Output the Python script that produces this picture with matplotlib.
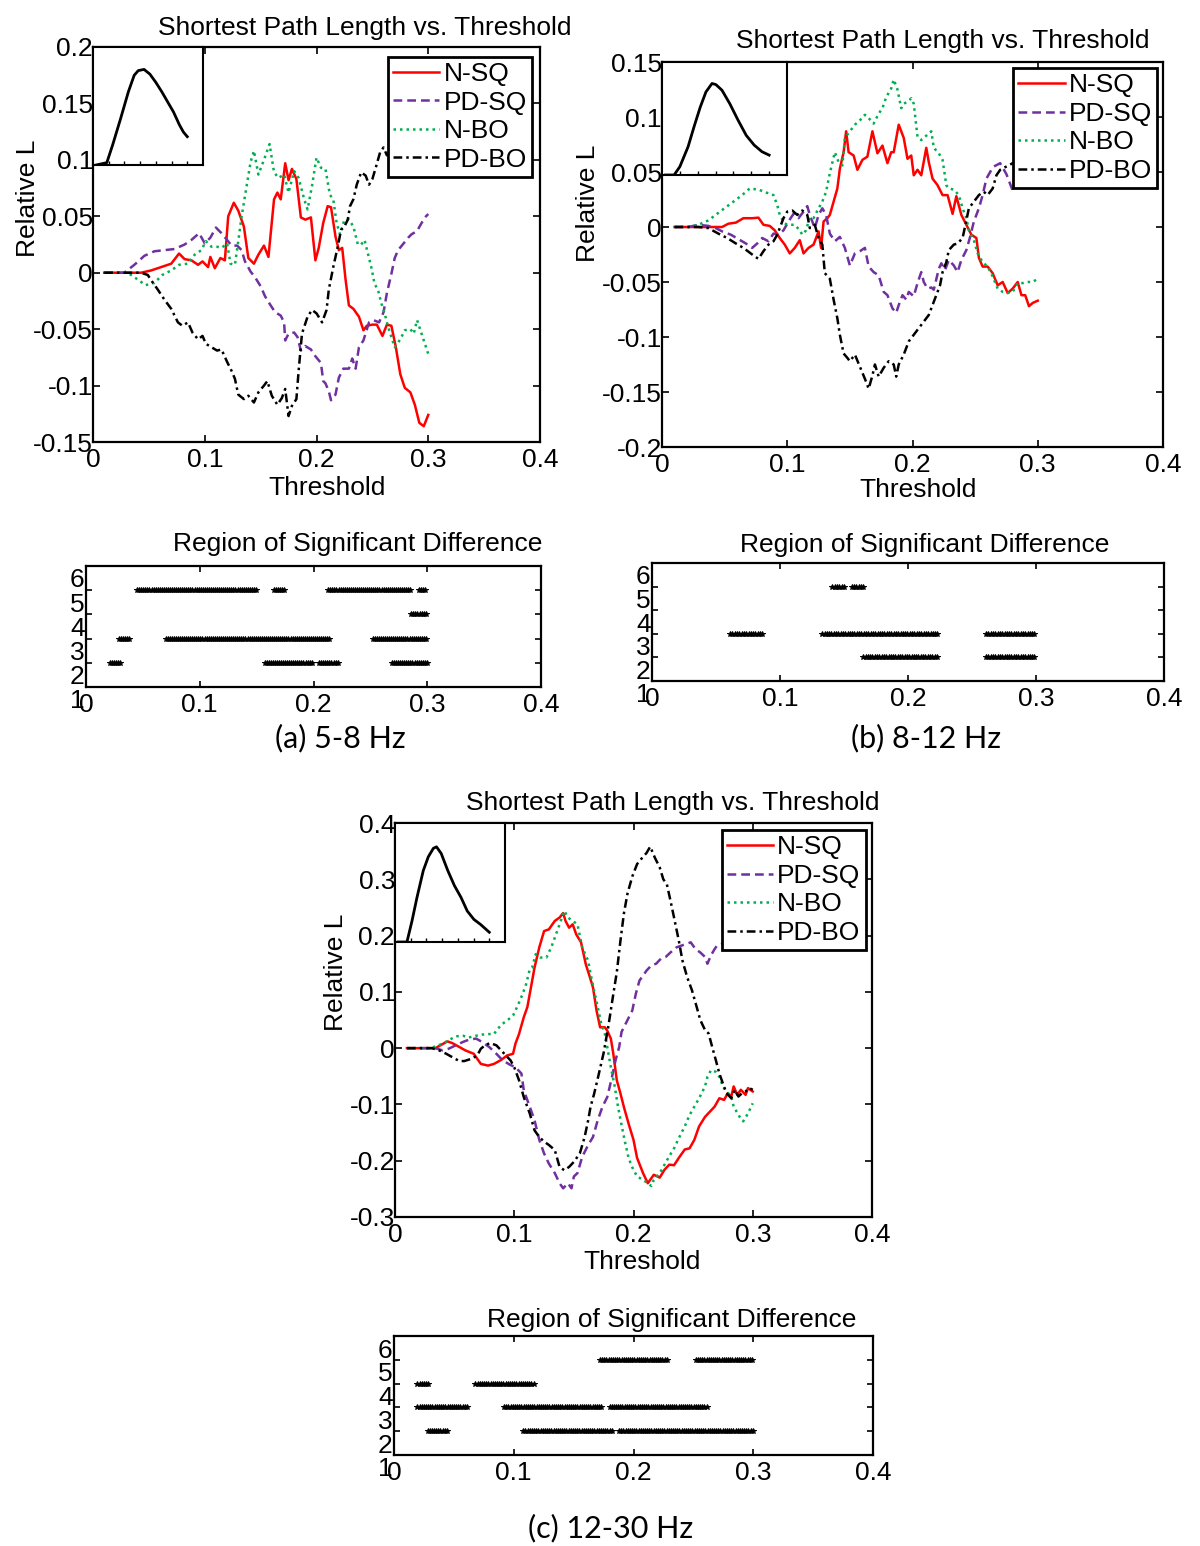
import numpy as np
import matplotlib
matplotlib.use("Agg")
import matplotlib.pyplot as plt
from matplotlib.transforms import ScaledTranslation

# ---- data: (threshold, relative L) pairs ----
A_NSQ = [(0.01, 0), (0.043, 0), (0.052, 0.002), (0.061, 0.005), (0.070, 0.008), (0.077, 0.017), (0.082, 0.012),
         (0.088, 0.011), (0.094, 0.007), (0.098, 0.010), (0.103, 0.005), (0.105, 0.014), (0.109, 0.004), (0.114, 0.013),
         (0.118, 0.011), (0.121, 0.050), (0.126, 0.062), (0.130, 0.055), (0.135, 0.041), (0.139, 0.013), (0.144, 0.008),
         (0.148, 0.016), (0.153, 0.024), (0.157, 0.014), (0.162, 0.065), (0.165, 0.071), (0.168, 0.065), (0.172, 0.097),
         (0.175, 0.082), (0.178, 0.092), (0.182, 0.083), (0.186, 0.049), (0.190, 0.047), (0.195, 0.049), (0.199, 0.011),
         (0.202, 0.022), (0.206, 0.044), (0.210, 0.059), (0.213, 0.058), (0.217, 0.032), (0.220, 0.020), (0.223, 0.022),
         (0.226, -0.006), (0.229, -0.029), (0.233, -0.032), (0.238, -0.039), (0.242, -0.051), (0.245, -0.047),
         (0.250, -0.046), (0.254, -0.046), (0.259, -0.056), (0.263, -0.046), (0.267, -0.047), (0.271, -0.066),
         (0.275, -0.090), (0.279, -0.102), (0.284, -0.106), (0.288, -0.117), (0.292, -0.133), (0.296, -0.136),
         (0.300, -0.126)]
A_PDSQ = [(0.01, 0), (0.028, 0), (0.037, 0.007), (0.046, 0.015), (0.055, 0.019), (0.064, 0.020), (0.073, 0.021),
          (0.082, 0.025), (0.088, 0.029), (0.095, 0.035), (0.100, 0.026), (0.105, 0.031), (0.110, 0.040), (0.115, 0.035),
          (0.120, 0.029), (0.124, 0.024), (0.129, 0.024), (0.133, 0.020), (0.136, 0.010), (0.141, 0.001), (0.145, -0.004),
          (0.150, -0.012), (0.154, -0.021), (0.159, -0.029), (0.163, -0.035), (0.168, -0.038), (0.171, -0.044),
          (0.172, -0.060), (0.175, -0.054), (0.180, -0.053), (0.183, -0.057), (0.186, -0.069), (0.190, -0.065),
          (0.195, -0.068), (0.199, -0.074), (0.204, -0.080), (0.206, -0.096), (0.208, -0.098), (0.211, -0.105),
          (0.213, -0.113), (0.217, -0.108), (0.220, -0.093), (0.224, -0.085), (0.229, -0.085), (0.232, -0.076),
          (0.235, -0.085), (0.238, -0.066), (0.242, -0.060), (0.247, -0.044), (0.251, -0.042), (0.256, -0.044),
          (0.260, -0.035), (0.263, -0.018), (0.267, -0.001), (0.270, 0.013), (0.273, 0.020), (0.278, 0.026),
          (0.282, 0.031), (0.285, 0.034), (0.290, 0.037), (0.294, 0.044), (0.298, 0.050), (0.300, 0.052)]
A_NBO = [(0.01, 0), (0.031, 0), (0.040, -0.006), (0.047, -0.011), (0.055, -0.009), (0.062, -0.002), (0.070, 0.002),
         (0.077, 0.007), (0.085, 0.008), (0.091, 0.016), (0.097, 0.020), (0.101, 0.028), (0.106, 0.023), (0.111, 0.023),
         (0.115, 0.022), (0.120, 0.026), (0.123, 0.008), (0.127, 0.007), (0.130, 0.028), (0.133, 0.050), (0.136, 0.068),
         (0.141, 0.098), (0.144, 0.108), (0.148, 0.087), (0.153, 0.100), (0.158, 0.114), (0.162, 0.089), (0.166, 0.084),
         (0.171, 0.087), (0.175, 0.071), (0.180, 0.090), (0.184, 0.084), (0.189, 0.065), (0.192, 0.056), (0.196, 0.077),
         (0.200, 0.102), (0.204, 0.093), (0.208, 0.092), (0.212, 0.069), (0.215, 0.065), (0.218, 0.044), (0.221, 0.034),
         (0.225, 0.047), (0.229, 0.047), (0.233, 0.041), (0.237, 0.025), (0.240, 0.025), (0.243, 0.029), (0.246, 0.017),
         (0.249, 0.005), (0.252, -0.010), (0.255, -0.015), (0.258, -0.027), (0.261, -0.036), (0.264, -0.048),
         (0.270, -0.066), (0.275, -0.059), (0.279, -0.051), (0.284, -0.050), (0.287, -0.054), (0.290, -0.042),
         (0.294, -0.054), (0.297, -0.063), (0.300, -0.072)]
A_PDBO = [(0.01, 0), (0.043, 0), (0.049, -0.002), (0.053, -0.008), (0.058, -0.015), (0.064, -0.024), (0.070, -0.032),
          (0.076, -0.044), (0.080, -0.047), (0.085, -0.044), (0.089, -0.053), (0.094, -0.059), (0.098, -0.056),
          (0.101, -0.063), (0.106, -0.066), (0.111, -0.069), (0.115, -0.068), (0.120, -0.079), (0.124, -0.087),
          (0.127, -0.094), (0.130, -0.108), (0.135, -0.112), (0.139, -0.109), (0.144, -0.115), (0.148, -0.106),
          (0.153, -0.100), (0.156, -0.096), (0.160, -0.109), (0.165, -0.117), (0.169, -0.111), (0.172, -0.103),
          (0.175, -0.127), (0.178, -0.118), (0.182, -0.112), (0.184, -0.087), (0.187, -0.054), (0.192, -0.039),
          (0.196, -0.033), (0.200, -0.036), (0.205, -0.044), (0.209, -0.033), (0.211, -0.015), (0.215, 0.005),
          (0.219, 0.023), (0.222, 0.038), (0.225, 0.041), (0.228, 0.047), (0.230, 0.059), (0.233, 0.065), (0.236, 0.078),
          (0.240, 0.089), (0.244, 0.086), (0.247, 0.078), (0.250, 0.083), (0.253, 0.093), (0.257, 0.107), (0.260, 0.111),
          (0.263, 0.104), (0.266, 0.107), (0.270, 0.115), (0.280, 0.120), (0.290, 0.118), (0.300, 0.125)]

B_NSQ = [(0.01, 0), (0.035, 0), (0.048, 0.0), (0.053, 0.003), (0.059, 0.004), (0.065, 0.008), (0.072, 0.008),
         (0.077, 0.0085), (0.081, 0.002), (0.086, 0.001), (0.090, -0.003), (0.094, -0.010), (0.098, -0.016),
         (0.102, -0.024), (0.106, -0.019), (0.110, -0.012), (0.113, -0.024), (0.117, -0.019), (0.121, -0.016),
         (0.125, -0.004), (0.127, -0.019), (0.129, 0.005), (0.132, 0.008), (0.134, 0.011), (0.137, 0.023), (0.140, 0.035),
         (0.142, 0.053), (0.145, 0.068), (0.147, 0.087), (0.149, 0.068), (0.153, 0.065), (0.156, 0.052), (0.160, 0.061),
         (0.164, 0.064), (0.168, 0.087), (0.172, 0.067), (0.176, 0.074), (0.180, 0.058), (0.183, 0.068), (0.185, 0.068),
         (0.189, 0.093), (0.193, 0.081), (0.196, 0.062), (0.199, 0.065), (0.201, 0.047), (0.204, 0.052), (0.207, 0.047),
         (0.211, 0.072), (0.213, 0.059), (0.216, 0.044), (0.220, 0.038), (0.224, 0.029), (0.228, 0.029), (0.232, 0.012),
         (0.235, 0.028), (0.239, 0.011), (0.243, 0.002), (0.247, -0.007), (0.251, -0.010), (0.253, -0.028),
         (0.256, -0.036), (0.260, -0.036), (0.264, -0.042), (0.268, -0.053), (0.272, -0.050), (0.276, -0.060),
         (0.280, -0.056), (0.284, -0.050), (0.287, -0.062), (0.290, -0.062), (0.293, -0.072), (0.296, -0.069),
         (0.300, -0.067)]
B_PDSQ = [(0.01, 0), (0.021, 0), (0.029, 0.002), (0.037, 0.001), (0.043, -0.001), (0.048, -0.004), (0.055, -0.007),
          (0.061, -0.011), (0.067, -0.015), (0.072, -0.019), (0.076, -0.015), (0.080, -0.010), (0.085, -0.013),
          (0.089, -0.006), (0.093, -0.007), (0.097, -0.003), (0.101, 0.005), (0.105, 0.012), (0.109, 0.008),
          (0.113, 0.014), (0.116, 0.019), (0.118, 0.011), (0.122, -0.001), (0.125, 0.011), (0.128, 0.017), (0.131, 0.011),
          (0.134, -0.006), (0.138, -0.013), (0.142, -0.009), (0.146, -0.019), (0.150, -0.035), (0.154, -0.024),
          (0.158, -0.022), (0.162, -0.019), (0.165, -0.036), (0.169, -0.041), (0.173, -0.044), (0.177, -0.059),
          (0.180, -0.062), (0.184, -0.074), (0.187, -0.078), (0.189, -0.071), (0.192, -0.062), (0.195, -0.066),
          (0.197, -0.059), (0.201, -0.063), (0.204, -0.051), (0.207, -0.041), (0.209, -0.050), (0.212, -0.056),
          (0.215, -0.055), (0.217, -0.057), (0.221, -0.038), (0.223, -0.033), (0.226, -0.039), (0.229, -0.030),
          (0.233, -0.035), (0.236, -0.041), (0.239, -0.030), (0.243, -0.021), (0.246, -0.009), (0.249, 0.005),
          (0.253, 0.017), (0.256, 0.029), (0.259, 0.044), (0.263, 0.052), (0.265, 0.055), (0.270, 0.058),
          (0.275, 0.048), (0.280, 0.033), (0.283, 0.037), (0.290, 0.046), (0.300, 0.052)]
B_NBO = [(0.01, 0), (0.021, 0), (0.029, 0.002), (0.037, 0.006), (0.044, 0.012), (0.051, 0.018), (0.057, 0.023),
         (0.064, 0.029), (0.070, 0.035), (0.077, 0.034), (0.084, 0.031), (0.089, 0.029), (0.092, 0.020), (0.094, 0.011),
         (0.098, 0.003), (0.102, 0.002), (0.106, 0.002), (0.110, -0.003), (0.112, -0.007), (0.115, -0.003),
         (0.118, 0.009), (0.121, 0.008), (0.125, 0.017), (0.128, 0.023), (0.131, 0.032), (0.134, 0.049), (0.138, 0.068),
         (0.141, 0.059), (0.144, 0.056), (0.146, 0.081), (0.150, 0.087), (0.154, 0.093), (0.158, 0.097), (0.162, 0.102),
         (0.165, 0.099), (0.169, 0.094), (0.173, 0.103), (0.176, 0.108), (0.179, 0.118), (0.183, 0.126), (0.185, 0.134),
         (0.188, 0.125), (0.191, 0.108), (0.193, 0.112), (0.196, 0.114), (0.199, 0.117), (0.201, 0.112), (0.204, 0.082),
         (0.207, 0.079), (0.209, 0.081), (0.212, 0.084), (0.215, 0.087), (0.217, 0.072), (0.221, 0.067), (0.224, 0.061),
         (0.227, 0.038), (0.229, 0.035), (0.233, 0.034), (0.237, 0.029), (0.240, 0.017), (0.243, 0.008),
         (0.245, -0.003), (0.249, -0.012), (0.252, -0.024), (0.256, -0.032), (0.260, -0.036), (0.264, -0.045),
         (0.268, -0.056), (0.272, -0.059), (0.276, -0.060), (0.280, -0.059), (0.284, -0.051), (0.288, -0.051),
         (0.292, -0.050), (0.296, -0.050), (0.300, -0.047)]
B_PDBO = [(0.01, 0), (0.029, 0), (0.037, -0.001), (0.045, -0.006), (0.052, -0.010), (0.059, -0.015), (0.065, -0.019),
          (0.072, -0.025), (0.077, -0.029), (0.081, -0.022), (0.085, -0.016), (0.089, -0.013), (0.092, -0.007),
          (0.094, -0.001), (0.097, 0.008), (0.100, 0.014), (0.104, 0.015), (0.108, 0.011), (0.112, 0.015),
          (0.116, 0.011), (0.118, -0.001), (0.122, 0.002), (0.125, -0.010), (0.128, -0.016), (0.130, -0.042),
          (0.134, -0.047), (0.137, -0.066), (0.140, -0.083), (0.142, -0.098), (0.145, -0.115), (0.148, -0.119),
          (0.150, -0.122), (0.154, -0.116), (0.158, -0.127), (0.162, -0.138), (0.165, -0.147), (0.168, -0.135),
          (0.170, -0.125), (0.173, -0.136), (0.177, -0.128), (0.181, -0.122), (0.185, -0.125), (0.187, -0.136),
          (0.189, -0.125), (0.193, -0.116), (0.197, -0.104), (0.201, -0.098), (0.205, -0.092), (0.209, -0.086),
          (0.213, -0.080), (0.217, -0.068), (0.220, -0.059), (0.222, -0.053), (0.224, -0.041), (0.227, -0.032),
          (0.229, -0.021), (0.233, -0.016), (0.236, -0.015), (0.240, -0.010), (0.243, 0.006), (0.245, 0.017),
          (0.249, 0.023), (0.253, 0.029), (0.257, 0.032), (0.260, 0.029), (0.264, 0.035), (0.267, 0.047),
          (0.270, 0.052), (0.280, 0.058), (0.290, 0.060), (0.300, 0.062)]

C_NSQ = [(0.01, 0), (0.034, 0), (0.038, 0.005), (0.044, 0.012), (0.048, 0.009), (0.054, 0.002), (0.059, -0.004),
         (0.066, -0.010), (0.072, -0.028), (0.078, -0.031), (0.083, -0.028), (0.089, -0.021), (0.094, -0.013),
         (0.099, -0.010), (0.101, 0.008), (0.104, 0.025), (0.108, 0.055), (0.111, 0.073), (0.114, 0.108),
         (0.117, 0.143), (0.121, 0.179), (0.125, 0.208), (0.129, 0.211), (0.134, 0.226), (0.138, 0.232),
         (0.141, 0.240), (0.143, 0.226), (0.146, 0.214), (0.149, 0.220), (0.152, 0.202), (0.156, 0.188),
         (0.160, 0.149), (0.163, 0.129), (0.166, 0.108), (0.169, 0.067), (0.172, 0.037), (0.176, 0.037),
         (0.178, 0.031), (0.181, 0.017), (0.183, -0.009), (0.186, -0.057), (0.189, -0.080), (0.192, -0.105),
         (0.196, -0.135), (0.200, -0.163), (0.203, -0.195), (0.208, -0.222), (0.212, -0.240), (0.214, -0.234),
         (0.217, -0.225), (0.222, -0.230), (0.226, -0.216), (0.230, -0.207), (0.234, -0.208), (0.238, -0.195),
         (0.243, -0.180), (0.247, -0.178), (0.251, -0.163), (0.255, -0.139), (0.260, -0.122), (0.264, -0.113),
         (0.268, -0.104), (0.272, -0.089), (0.276, -0.092), (0.279, -0.080), (0.282, -0.086), (0.284, -0.068),
         (0.287, -0.083), (0.290, -0.074), (0.294, -0.083), (0.296, -0.071), (0.300, -0.077)]
C_PDSQ = [(0.01, 0), (0.034, 0), (0.040, -0.004), (0.045, -0.001), (0.051, 0.005), (0.057, 0.011), (0.062, 0.015),
          (0.068, 0.017), (0.073, 0.011), (0.079, 0.002), (0.085, -0.010), (0.090, -0.021), (0.096, -0.029),
          (0.101, -0.034), (0.106, -0.045), (0.108, -0.075), (0.113, -0.104), (0.117, -0.128), (0.121, -0.163),
          (0.125, -0.187), (0.129, -0.205), (0.134, -0.222), (0.138, -0.240), (0.141, -0.249), (0.145, -0.240),
          (0.148, -0.249), (0.150, -0.228), (0.153, -0.222), (0.157, -0.193), (0.162, -0.172), (0.166, -0.158),
          (0.170, -0.128), (0.174, -0.104), (0.178, -0.087), (0.182, -0.051), (0.185, -0.021), (0.188, 0.002),
          (0.190, 0.029), (0.195, 0.050), (0.199, 0.067), (0.202, 0.097), (0.205, 0.120), (0.208, 0.129),
          (0.211, 0.138), (0.215, 0.147), (0.219, 0.150), (0.223, 0.159), (0.227, 0.162), (0.231, 0.170),
          (0.236, 0.179), (0.240, 0.182), (0.244, 0.185), (0.248, 0.188), (0.252, 0.176), (0.256, 0.170),
          (0.260, 0.162), (0.262, 0.150), (0.265, 0.165), (0.268, 0.176), (0.270, 0.182), (0.280, 0.190),
          (0.290, 0.195), (0.300, 0.200)]
C_NBO = [(0.01, 0), (0.029, 0), (0.034, 0.003), (0.040, 0.008), (0.045, 0.014), (0.051, 0.021), (0.057, 0.022),
         (0.062, 0.019), (0.068, 0.022), (0.073, 0.024), (0.079, 0.025), (0.083, 0.025), (0.086, 0.034), (0.090, 0.043),
         (0.094, 0.049), (0.099, 0.058), (0.103, 0.076), (0.107, 0.096), (0.110, 0.114), (0.113, 0.140), (0.115, 0.143),
         (0.118, 0.167), (0.122, 0.161), (0.127, 0.161), (0.131, 0.179), (0.135, 0.202), (0.139, 0.226), (0.142, 0.244),
         (0.145, 0.232), (0.149, 0.226), (0.153, 0.220), (0.157, 0.179), (0.162, 0.155), (0.164, 0.132), (0.167, 0.102),
         (0.170, 0.073), (0.173, 0.043), (0.176, 0.025), (0.178, 0.002), (0.181, -0.034), (0.184, -0.065),
         (0.187, -0.104), (0.190, -0.137), (0.193, -0.168), (0.196, -0.196), (0.199, -0.212), (0.203, -0.228),
         (0.208, -0.234), (0.212, -0.240), (0.215, -0.245), (0.217, -0.234), (0.222, -0.222), (0.226, -0.207),
         (0.230, -0.192), (0.234, -0.178), (0.238, -0.160), (0.243, -0.139), (0.247, -0.119), (0.251, -0.104),
         (0.255, -0.089), (0.260, -0.068), (0.262, -0.051), (0.265, -0.039), (0.269, -0.042), (0.272, -0.051),
         (0.275, -0.068), (0.278, -0.077), (0.282, -0.086), (0.284, -0.104), (0.289, -0.122), (0.292, -0.130),
         (0.296, -0.116), (0.300, -0.098)]
C_PDBO = [(0.01, 0), (0.031, 0), (0.037, -0.004), (0.043, -0.010), (0.048, -0.016), (0.054, -0.023), (0.058, -0.023),
          (0.064, -0.019), (0.069, -0.013), (0.072, -0.001), (0.076, 0.006), (0.080, 0.009), (0.085, 0.005),
          (0.089, -0.004), (0.093, -0.013), (0.097, -0.022), (0.100, -0.034), (0.104, -0.057), (0.108, -0.087),
          (0.113, -0.116), (0.117, -0.146), (0.121, -0.158), (0.125, -0.166), (0.129, -0.172), (0.134, -0.181),
          (0.138, -0.211), (0.142, -0.217), (0.146, -0.211), (0.150, -0.202), (0.155, -0.187), (0.159, -0.158),
          (0.162, -0.128), (0.164, -0.104), (0.167, -0.081), (0.171, -0.045), (0.175, -0.008), (0.179, 0.040),
          (0.183, 0.095), (0.186, 0.135), (0.189, 0.190), (0.192, 0.240), (0.195, 0.275), (0.199, 0.305),
          (0.203, 0.327), (0.206, 0.335), (0.209, 0.342), (0.211, 0.347), (0.214, 0.358), (0.218, 0.338),
          (0.222, 0.321), (0.225, 0.300), (0.228, 0.291), (0.231, 0.262), (0.234, 0.232), (0.238, 0.191),
          (0.241, 0.156), (0.245, 0.126), (0.249, 0.103), (0.253, 0.073), (0.256, 0.050), (0.260, 0.032),
          (0.263, 0.026), (0.266, 0.002), (0.269, -0.021), (0.272, -0.045), (0.275, -0.063), (0.278, -0.080),
          (0.282, -0.089), (0.285, -0.074), (0.288, -0.086), (0.291, -0.080), (0.294, -0.077), (0.297, -0.071),
          (0.300, -0.074)]

# inset curves (threshold, normalised value)
A_INSET = [(0.01, 0.0), (0.044, 0.02), (0.0625, 0.17), (0.0875, 0.39), (0.1125, 0.62), (0.131, 0.76), (0.144, 0.80),
           (0.1625, 0.81), (0.181, 0.77), (0.200, 0.70), (0.219, 0.62), (0.2375, 0.535), (0.256, 0.45),
           (0.275, 0.34), (0.2875, 0.28), (0.300, 0.24)]
B_INSET = [(0.01, 0.0), (0.034, 0.0), (0.050, 0.074), (0.073, 0.25), (0.090, 0.43), (0.107, 0.60), (0.123, 0.735),
           (0.140, 0.81), (0.151, 0.80), (0.168, 0.75), (0.190, 0.63), (0.213, 0.485), (0.236, 0.35),
           (0.258, 0.265), (0.280, 0.206), (0.300, 0.176)]
C_INSET = [(0.01, 0.0), (0.038, 0.0), (0.054, 0.176), (0.070, 0.375), (0.090, 0.60), (0.106, 0.716), (0.122, 0.787),
           (0.132, 0.80), (0.147, 0.744), (0.168, 0.60), (0.189, 0.474), (0.210, 0.375), (0.230, 0.26),
           (0.251, 0.19), (0.272, 0.148), (0.300, 0.082)]

# significant-difference intervals: (row, start threshold, end threshold)
A_SIG = [(5, 0.045, 0.150), (5, 0.165, 0.175), (5, 0.213, 0.286), (5, 0.293, 0.300), (4, 0.286, 0.300),
         (3, 0.029, 0.038), (3, 0.070, 0.214), (3, 0.252, 0.300), (2, 0.021, 0.031), (2, 0.157, 0.199),
         (2, 0.205, 0.222), (2, 0.269, 0.300)]
B_SIG = [(5, 0.141, 0.150), (5, 0.156, 0.166), (3, 0.061, 0.087), (3, 0.133, 0.223), (3, 0.261, 0.300),
         (2, 0.165, 0.223), (2, 0.261, 0.300)]
C_SIG = [(5, 0.172, 0.229), (5, 0.252, 0.300), (4, 0.0195, 0.029), (4, 0.068, 0.117), (3, 0.0195, 0.061),
         (3, 0.092, 0.174), (3, 0.180, 0.262), (2, 0.028, 0.045), (2, 0.108, 0.182), (2, 0.188, 0.300)]

LABELS = ["N-SQ", "PD-SQ", "N-BO", "PD-BO"]
COLORS = ["#FF0000", "#7030A0", "#00B050", "black"]
STYLES = ["-", (0, (3.5, 2.0)), (0, (1.0, 1.6)), (0, (3.5, 1.6, 1.0, 1.6))]

XTICKS = [0, 0.1, 0.2, 0.3, 0.4]
XTICKLABELS = ["0", "0.1", "0.2", "0.3", "0.4"]

W, H = 1200, 1546
FS = 19

plt.rcParams["font.family"] = ["Liberation Sans", "DejaVu Sans"]
plt.rcParams["axes.unicode_minus"] = False

fig = plt.figure(figsize=(W / 100, H / 100), dpi=100)


def rect(x0, y0, x1, y1):
    # pixel box -> figure fraction
    return [x0 / W, 1 - y1 / H, (x1 - x0) / W, (y1 - y0) / H]


def ftext(x, y, s, **kw):
    fig.text(x / W, 1 - y / H, s, ha="center", va="center", **kw)


def style_frame(ax, lw=1.6):
    for sp in ax.spines.values():
        sp.set_linewidth(lw)
        sp.set_color("black")


def main_panel(box, inset_box, series, ylim, yticks, yticklabels, inset, anchor):
    ax = fig.add_axes(rect(*box))
    for pts, lab, col, ls in zip(series, LABELS, COLORS, STYLES):
        xs, ys = zip(*pts)
        ax.plot(xs, ys, color=col, ls=ls, lw=1.8, label=lab)
    ax.set_xlim(0, 0.4)
    ax.set_ylim(*ylim)
    ax.set_xticks(XTICKS)
    ax.set_xticklabels(XTICKLABELS)
    ax.set_yticks(yticks)
    ax.set_yticklabels(yticklabels)
    ax.tick_params(direction="in", top=True, right=True, length=5, width=1.2, labelsize=FS)
    ax.tick_params(axis="y", pad=0)
    ax.tick_params(axis="x", pad=4)
    style_frame(ax)
    leg = ax.legend(loc="upper right", bbox_to_anchor=anchor, borderaxespad=0, fontsize=FS,
                    fancybox=False, framealpha=1, edgecolor="black", handlelength=1.75,
                    handletextpad=0.15, borderpad=0.2, labelspacing=0.17)
    leg.get_frame().set_linewidth(2.0)

    ins = fig.add_axes(rect(*inset_box))
    xs, ys = zip(*inset)
    ins.plot(xs, ys, color="black", lw=2.0)
    ins.set_xlim(0, 0.35)
    ins.set_ylim(0, 1)
    ins.set_xticks([0.05, 0.1, 0.15, 0.2, 0.25, 0.3])
    ins.set_yticks([])
    ins.tick_params(direction="in", length=3, width=1, labelbottom=False)
    style_frame(ins, 1.5)
    return ax


def sig_panel(box, intervals):
    ax = fig.add_axes(rect(*box))
    for row, start, end in intervals:
        xs = np.arange(start, end + 1e-9, 0.0018)
        ax.plot(xs, np.full(len(xs), row), ls="none", marker="*", ms=4.2, mew=0.7, color="black")
    ax.set_xlim(0, 0.4)
    ax.set_ylim(1, 6)
    ax.set_xticks(XTICKS)
    ax.set_xticklabels(XTICKLABELS)
    ax.set_yticks([1, 2, 3, 4, 5, 6])
    ax.set_yticklabels(["1", "2", "3", "4", "5", "6"])
    ax.tick_params(direction="in", top=True, right=True, length=4, width=1.2, labelsize=FS)
    ax.tick_params(axis="y", pad=1)
    ax.tick_params(axis="x", pad=4)
    # labels sit half a row lower than their ticks in the original export
    shift = ScaledTranslation(0, -0.12, fig.dpi_scale_trans)
    for lab in ax.get_yticklabels():
        lab.set_transform(lab.get_transform() + shift)
    style_frame(ax)
    return ax


# ---- (a) 5-8 Hz ----
main_panel((93, 47, 540, 442), (93, 47, 203, 165), [A_NSQ, A_PDSQ, A_NBO, A_PDBO], (-0.15, 0.2),
           [-0.15, -0.1, -0.05, 0, 0.05, 0.1, 0.15, 0.2],
           ["-0.15", "-0.1", "-0.05", "0", "0.05", "0.1", "0.15", "0.2"], A_INSET, (0.982, 0.975))
ftext(365, 28, "Shortest Path Length vs. Threshold", fontsize=FS)
ftext(28, 198, "Relative L", fontsize=FS, rotation=90)
ftext(327, 488, "Threshold", fontsize=FS)
sig_panel((86, 566, 541, 687), A_SIG)
ftext(358, 544, "Region of Significant Difference", fontsize=FS)
ftext(340, 738, "(a) 5-8 Hz", fontsize=22, family="Lato")

# ---- (b) 8-12 Hz ----
main_panel((662, 62, 1163, 447), (662, 62, 787, 175), [B_NSQ, B_PDSQ, B_NBO, B_PDBO], (-0.2, 0.15),
           [-0.2, -0.15, -0.1, -0.05, 0, 0.05, 0.1, 0.15],
           ["-0.2", "-0.15", "-0.1", "-0.05", "0", "0.05", "0.1", "0.15"], B_INSET, (0.988, 0.984))
ftext(943, 41, "Shortest Path Length vs. Threshold", fontsize=FS)
ftext(588, 203, "Relative L", fontsize=FS, rotation=90)
ftext(918, 490, "Threshold", fontsize=FS)
sig_panel((652, 563, 1164, 681), B_SIG)
ftext(925, 545, "Region of Significant Difference", fontsize=FS)
ftext(926, 738, "(b) 8-12 Hz", fontsize=22, family="Lato")

# ---- (c) 12-30 Hz ----
main_panel((395, 823, 872, 1217), (395, 823, 505, 942), [C_NSQ, C_PDSQ, C_NBO, C_PDBO], (-0.3, 0.4),
           [-0.3, -0.2, -0.1, 0, 0.1, 0.2, 0.3, 0.4],
           ["-0.3", "-0.2", "-0.1", "0", "0.1", "0.2", "0.3", "0.4"], C_INSET, (0.987, 0.982))
ftext(673, 803, "Shortest Path Length vs. Threshold", fontsize=FS)
ftext(336, 972, "Relative L", fontsize=FS, rotation=90)
ftext(642, 1262, "Threshold", fontsize=FS)
sig_panel((394, 1336, 873, 1455), C_SIG)
ftext(672, 1320, "Region of Significant Difference", fontsize=FS)
ftext(611, 1528, "(c) 12-30 Hz", fontsize=22, family="Lato")

fig.savefig("out.png", dpi=100)
